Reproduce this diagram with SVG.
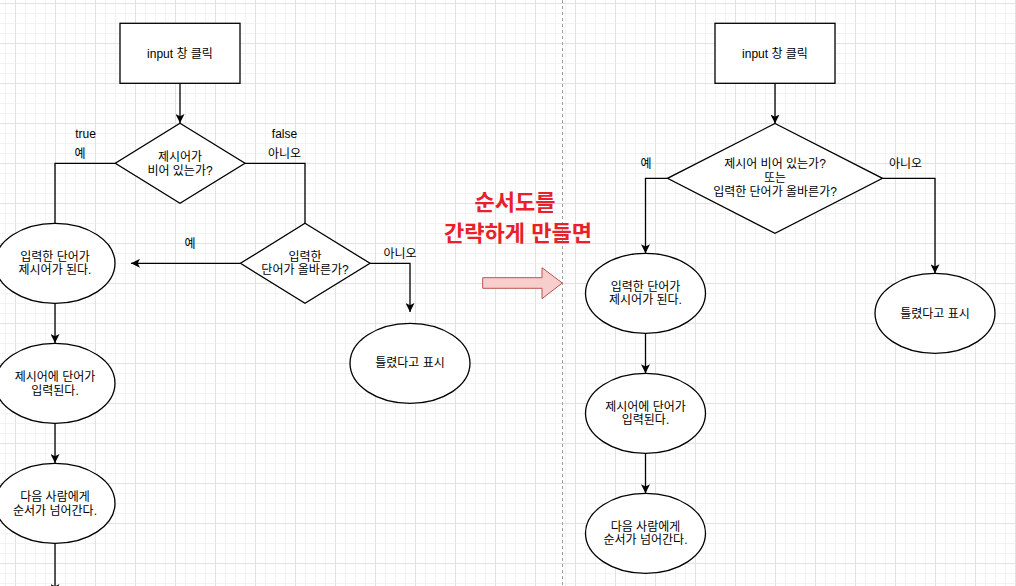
<svg xmlns="http://www.w3.org/2000/svg" width="1016" height="586" viewBox="0 0 1016 586">
<defs>
<pattern id="minor" x="5" y="3" width="10" height="10" patternUnits="userSpaceOnUse">
<path d="M0 0.5 H10 M0.5 0 V10" fill="none" stroke="#f2f2f2" stroke-width="1"/>
</pattern>
<pattern id="major" x="15" y="3" width="40" height="40" patternUnits="userSpaceOnUse">
<path d="M0 0.5 H40 M0.5 0 V40" fill="none" stroke="#e2e2e2" stroke-width="1"/>
</pattern>
<marker id="arr" viewBox="0 0 10 10" refX="10" refY="5" markerWidth="9" markerHeight="9" markerUnits="userSpaceOnUse" orient="auto">
<path d="M0 0 L10 5 L0 10 L2.5 5 Z" fill="#000"/>
</marker>
<style>
.shape{fill:#fff;stroke:#000;stroke-width:1.3}
.edge{fill:none;stroke:#000;stroke-width:1.3}
.arrow{marker-end:url(#arr)}
text{font-family:"Liberation Sans","Noto Sans CJK KR",sans-serif;font-size:12px;fill:#000;text-anchor:middle}
.title{font-size:22px;font-weight:bold;fill:#e8202a}
</style>
</defs>
<rect width="1016" height="586" fill="#fff"/>
<rect width="1016" height="586" fill="url(#minor)"/>
<rect width="1016" height="586" fill="url(#major)"/>
<line x1="562.5" y1="0" x2="562.5" y2="586" stroke="#a0a0a0" stroke-width="1" stroke-dasharray="3 3"/>

<g id="connectors">
<path class="edge arrow" d="M180 83.3 V123"/>
<path class="edge" d="M115.3 163.3 H55 V223.3"/>
<path class="edge" d="M245 163.3 H305 V223.3"/>
<path class="edge arrow" d="M240.5 263.3 H131"/>
<path class="edge arrow" d="M370 263.3 H410 V312"/>
<path class="edge arrow" d="M55 303.3 V343"/>
<path class="edge arrow" d="M55 423.3 V463"/>
<path class="edge arrow" d="M55 543.3 V593"/>
<path class="edge arrow" d="M775 83.3 V123.5"/>
<path class="edge arrow" d="M667.5 178.3 H645.5 V253.3"/>
<path class="edge arrow" d="M882.5 178.3 H935 V273.3"/>
<path class="edge arrow" d="M645.5 333.3 V373.3"/>
<path class="edge arrow" d="M645.5 453.3 V493.3"/>
</g>

<g id="edge-labels">
<text x="85.5" y="137.5">true</text>
<text x="80" y="157.5">예</text>
<text x="284.5" y="137.5">false</text>
<text x="284.5" y="157.5">아니오</text>
<text x="190" y="247.5">예</text>
<text x="400" y="257.5">아니오</text>
<text x="646" y="167.5">예</text>
<text x="905.5" y="167.5">아니오</text>
</g>

<g id="L-start">
<rect class="shape" x="120" y="23.3" width="120" height="60"/>
<text x="180" y="57.5">input 창 클릭</text>
</g>
<g id="L-dec1">
<polygon class="shape" points="180,123.3 245,163.3 180,203.3 115.3,163.3"/>
<text x="180" y="160.5">제시어가</text>
<text x="180" y="174.5">비어 있는가?</text>
</g>
<g id="L-dec2">
<polygon class="shape" points="305,223.3 370,263.3 305,303.3 240.5,263.3"/>
<text x="305" y="260.5">입력한</text>
<text x="305" y="274">단어가 올바른가?</text>
</g>
<g id="L-become">
<ellipse class="shape" cx="55" cy="263.3" rx="60" ry="40"/>
<text x="55" y="260.5">입력한 단어가</text>
<text x="55" y="274">제시어가 된다.</text>
</g>
<g id="L-wrong">
<ellipse class="shape" cx="410" cy="363.3" rx="60" ry="40"/>
<text x="410" y="367">틀렸다고 표시</text>
</g>
<g id="L-input">
<ellipse class="shape" cx="55" cy="383.3" rx="60" ry="40"/>
<text x="55" y="381">제시어에 단어가</text>
<text x="55" y="394.5">입력된다.</text>
</g>
<g id="L-next">
<ellipse class="shape" cx="55" cy="503.3" rx="60" ry="40"/>
<text x="55" y="501">다음 사람에게</text>
<text x="55" y="514.5">순서가 넘어간다.</text>
</g>

<g id="transition">
<text class="title" x="515" y="209.5">순서도를</text>
<text class="title" x="518" y="241">간략하게 만들면</text>
<polygon points="482.7,277.7 542,277.7 542,267.7 562.3,283 542,298.7 542,288.3 482.7,288.3" fill="#f8cecc" stroke="#b85450" stroke-width="1"/>
</g>

<g id="R-start">
<rect class="shape" x="715" y="23.3" width="120" height="60"/>
<text x="775" y="57.5">input 창 클릭</text>
</g>
<g id="R-dec">
<polygon class="shape" points="775,123.5 882.5,178.3 775,233.3 667.5,178.3"/>
<text x="775" y="168">제시어 비어 있는가?</text>
<text x="775" y="182">또는</text>
<text x="775" y="196">입력한 단어가 올바른가?</text>
</g>
<g id="R-become">
<ellipse class="shape" cx="645.5" cy="293.3" rx="60" ry="40"/>
<text x="645.5" y="290.5">입력한 단어가</text>
<text x="645.5" y="304">제시어가 된다.</text>
</g>
<g id="R-wrong">
<ellipse class="shape" cx="935" cy="313.3" rx="60" ry="40"/>
<text x="935" y="317.5">틀렸다고 표시</text>
</g>
<g id="R-input">
<ellipse class="shape" cx="645.5" cy="413.3" rx="60" ry="40"/>
<text x="645.5" y="410.5">제시어에 단어가</text>
<text x="645.5" y="424">입력된다.</text>
</g>
<g id="R-next">
<ellipse class="shape" cx="645.5" cy="533.3" rx="60" ry="40"/>
<text x="645.5" y="530.5">다음 사람에게</text>
<text x="645.5" y="544">순서가 넘어간다.</text>
</g>
</svg>
